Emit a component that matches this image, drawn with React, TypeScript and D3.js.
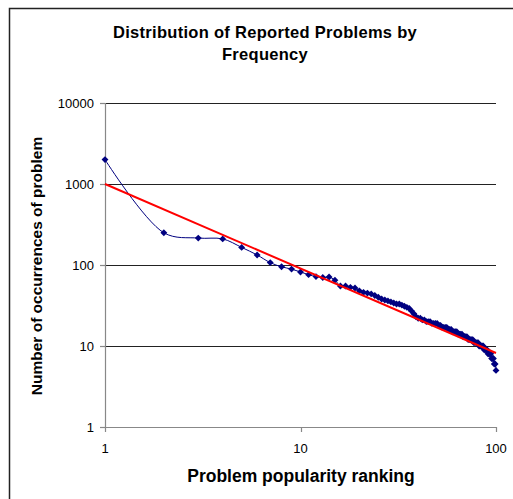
import { useEffect, useRef } from "react"
import * as d3 from "d3"

// Problem counts by popularity rank (1..100)
const counts = [
  2000, 250, 215, 210, 165, 133, 107, 95, 89, 82,
  76, 72, 70, 71, 65, 55, 55, 53, 52, 48,
  46, 45, 44, 42, 40, 38, 37, 36, 35, 34,
  33, 33, 32, 31, 30, 29, 27, 25, 23, 22,
  22, 21, 21, 20, 20, 20, 19, 19, 19, 19,
  18, 18, 17, 17, 17, 17, 16, 16, 16, 15,
  15, 15, 15, 14, 14, 14, 14, 13, 13, 13,
  13, 12, 12, 12, 12, 12, 11, 11, 11, 11,
  11, 10, 10, 10, 10, 10, 9, 9, 9, 9,
  8, 8, 8, 8, 7, 7, 7, 6, 6, 5,
]
const ranks = counts.map((_, i) => i + 1)

// power-law trendline end points
const trendX = [1, 100]
const trendY = [1000, 8.2]

const xTicks = [1, 10, 100]
const yTicks = [1, 10, 100, 1000, 10000]

const W = 513
const H = 499
const FONT = "Liberation Sans, Arial, sans-serif"

export default function App() {
  const ref = useRef<SVGSVGElement>(null)

  useEffect(() => {
    if (!ref.current) return
    const svg = d3.select(ref.current)
    svg.selectAll("*").remove()

    const left = 105
    const right = 496
    const top = 103
    const bottom = 427

    const x = d3.scaleLog().domain([1, 100]).range([left, right])
    const y = d3.scaleLog().domain([1, 10000]).range([bottom, top])

    svg.append("rect").attr("width", W).attr("height", H).attr("fill", "white")

    // outer chart frame
    svg
      .append("rect")
      .attr("x", 9.5)
      .attr("y", 8.5)
      .attr("width", 700)
      .attr("height", 700)
      .attr("fill", "none")
      .attr("stroke", "#222")
      .attr("stroke-width", 1.5)

    // title
    const title = svg
      .append("text")
      .attr("text-anchor", "middle")
      .attr("font-family", FONT)
      .attr("font-weight", "bold")
      .attr("font-size", 16.5)
      .attr("letter-spacing", 0.3)
      .attr("fill", "#000")
    title.append("tspan").attr("x", 265).attr("y", 38).text("Distribution of Reported Problems by")
    title.append("tspan").attr("x", 265).attr("y", 60).text("Frequency")

    // gridlines
    svg
      .append("g")
      .selectAll("line")
      .data(yTicks.filter((t) => t > 1))
      .join("line")
      .attr("x1", left)
      .attr("x2", right)
      .attr("y1", (d) => Math.round(y(d)) + 0.5)
      .attr("y2", (d) => Math.round(y(d)) + 0.5)
      .attr("stroke", "#222")
      .attr("stroke-width", 1)

    // axes
    const ax = svg.append("g").attr("stroke", "#888").attr("stroke-width", 1.2)
    ax.append("line").attr("x1", left + 0.5).attr("x2", left + 0.5).attr("y1", top).attr("y2", bottom)
    ax.append("line").attr("x1", left).attr("x2", right).attr("y1", bottom + 0.5).attr("y2", bottom + 0.5)
    ax.selectAll(".yt")
      .data(yTicks)
      .join("line")
      .attr("x1", left - 5)
      .attr("x2", left)
      .attr("y1", (d) => Math.round(y(d)) + 0.5)
      .attr("y2", (d) => Math.round(y(d)) + 0.5)
    ax.selectAll(".xt")
      .data(xTicks)
      .join("line")
      .attr("x1", (d) => Math.round(x(d)) + 0.5)
      .attr("x2", (d) => Math.round(x(d)) + 0.5)
      .attr("y1", bottom)
      .attr("y2", bottom + 5)

    svg
      .append("g")
      .selectAll("text")
      .data(yTicks)
      .join("text")
      .attr("x", left - 11)
      .attr("y", (d) => y(d) + 4.5)
      .attr("text-anchor", "end")
      .attr("font-family", FONT)
      .attr("font-size", 13)
      .text((d) => String(d))

    svg
      .append("g")
      .selectAll("text")
      .data(xTicks)
      .join("text")
      .attr("x", (d) => x(d))
      .attr("y", bottom + 26)
      .attr("text-anchor", "middle")
      .attr("font-family", FONT)
      .attr("font-size", 13)
      .text((d) => String(d))

    svg
      .append("text")
      .attr("x", 301)
      .attr("y", 482)
      .attr("text-anchor", "middle")
      .attr("font-family", FONT)
      .attr("font-weight", "bold")
      .attr("font-size", 17.5)
      .text("Problem popularity ranking")

    svg
      .append("text")
      .attr("transform", `translate(42,${(top + bottom) / 2 + 1}) rotate(-90)`)
      .attr("text-anchor", "middle")
      .attr("font-family", FONT)
      .attr("font-weight", "bold")
      .attr("font-size", 15.5)
      .text("Number of occurrences of problem")

    // data series
    const pts: [number, number][] = ranks.map((r, i) => [x(r), y(counts[i])])
    svg
      .append("path")
      .attr("d", d3.line().curve(d3.curveCatmullRom.alpha(0.5))(pts))
      .attr("fill", "none")
      .attr("stroke", "#000080")
      .attr("stroke-width", 1)

    svg
      .append("g")
      .selectAll("path")
      .data(pts)
      .join("path")
      .attr("transform", (d) => `translate(${d[0]},${d[1]})`)
      .attr("d", d3.symbol(d3.symbolDiamond2, 30)())
      .attr("fill", "#000080")

    // trendline
    svg
      .append("path")
      .attr("d", d3.line()(trendX.map((t, i) => [x(t), y(trendY[i])] as [number, number])))
      .attr("stroke", "#ff0000")
      .attr("stroke-width", 2)
      .attr("fill", "none")
  }, [])

  return (
    <svg
      ref={ref}
      width={W}
      height={H}
      style={{ position: "absolute", left: 0, top: 0, display: "block" }}
    />
  )
}
